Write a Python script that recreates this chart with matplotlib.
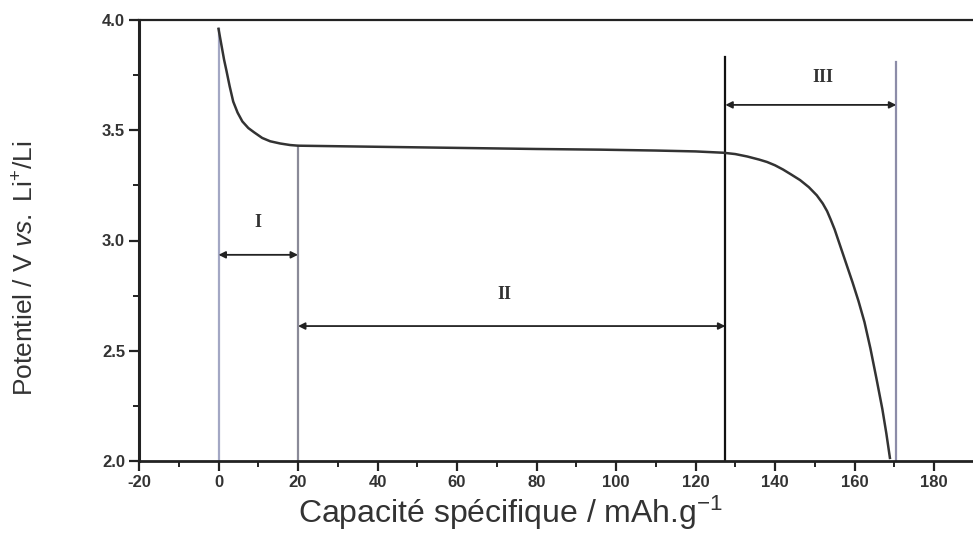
import matplotlib
matplotlib.use("Agg")
import matplotlib.pyplot as plt
from matplotlib.ticker import MultipleLocator

# Data
capacity = [0, 0.3, 0.8, 1.4, 2.0, 2.8, 3.7, 4.8, 6, 7.5, 9, 11, 13, 15.5, 18, 20,
            40, 60, 80, 96, 110, 120, 127, 130, 133, 136, 138, 140, 142, 144, 146.3,
            148.5, 150.5, 152, 153.1, 154, 155, 156.5, 158, 159.5, 161, 162.5, 164,
            165.5, 167, 168, 168.9]
potential = [3.96, 3.93, 3.88, 3.82, 3.77, 3.70, 3.63, 3.58, 3.54, 3.51, 3.49, 3.465,
             3.45, 3.44, 3.433, 3.43, 3.425, 3.42, 3.415, 3.412, 3.408, 3.404, 3.398,
             3.392, 3.381, 3.367, 3.356, 3.341, 3.322, 3.30, 3.274, 3.242, 3.205,
             3.168, 3.133, 3.095, 3.05, 2.97, 2.89, 2.81, 2.725, 2.63, 2.51, 2.375,
             2.235, 2.125, 2.014]

boundaries = [0, 20, 127.5, 170.5]
boundary_tops = [3.96, 3.43, 3.83, 3.81]
boundary_colors = ["#a3a7c4", "#8a8a98", "#111111", "#8c8ca8"]

region_labels = ["I", "II", "III"]
region_starts = [0, 20, 127.5]
region_ends = [20, 127.5, 170.5]
arrow_levels = [2.935, 2.612, 3.615]
label_x = [10, 72, 152]
label_y = [3.08, 2.755, 3.74]

xticks = [-20, 0, 20, 40, 60, 80, 100, 120, 140, 160, 180]
yticks = [2.0, 2.5, 3.0, 3.5, 4.0]

plt.rcParams["mathtext.fontset"] = "custom"
plt.rcParams["mathtext.rm"] = "Liberation Sans"
plt.rcParams["mathtext.it"] = "Liberation Sans:italic"
plt.rcParams["axes.unicode_minus"] = False

fig = plt.figure(figsize=(9.73, 5.38), dpi=100)
ax = fig.add_axes([139 / 973, 1 - 461 / 538, 1 - 139 / 973, (461 - 20) / 538])

ax.plot(capacity, potential, color="#333333", lw=1.8, zorder=3,
        solid_joinstyle="round")

for xb, top, c in zip(boundaries, boundary_tops, boundary_colors):
    ax.plot([xb, xb], [2.0, top], color=c, lw=1.6, zorder=2)

for lab, s, e, ya, lx, ly in zip(region_labels, region_starts, region_ends,
                                 arrow_levels, label_x, label_y):
    ax.annotate("", xy=(e, ya), xytext=(s, ya),
                arrowprops=dict(arrowstyle="<|-|>", color="#222222", lw=1.3,
                                mutation_scale=10, shrinkA=0, shrinkB=0))
    ax.text(lx, ly, lab, ha="center", va="center", fontsize=13, fontweight="bold",
            family="Liberation Serif", color="#333333")

ax.set_xlim(-20, 189.8)
ax.set_ylim(2.0, 4.0)
ax.set_xticks(xticks)
ax.set_yticks(yticks)
ax.set_yticklabels(["%.1f" % v for v in yticks])
ax.xaxis.set_minor_locator(MultipleLocator(10))
ax.yaxis.set_minor_locator(MultipleLocator(0.25))

ax.tick_params(which="major", direction="out", length=7, width=1.6, labelsize=12,
               colors="#222222", pad=3)
ax.tick_params(which="minor", direction="out", length=4, width=1.4, colors="#222222")
for lbl in ax.get_xticklabels() + ax.get_yticklabels():
    lbl.set_family("Liberation Sans")
    lbl.set_fontweight("bold")
    lbl.set_color("#333333")

ax.spines["right"].set_visible(False)
ax.spines["left"].set_linewidth(2.2)
ax.spines["bottom"].set_linewidth(2.0)
ax.spines["top"].set_linewidth(1.6)
for s in ["left", "bottom", "top"]:
    ax.spines[s].set_color("#222222")

ax.set_xlabel("Capacité spécifique / mAh.g$^{-1}$", fontsize=23,
              family="Liberation Sans", color="#333333")
ax.xaxis.set_label_coords(0.446, -0.075)
ax.set_ylabel("Potentiel / V $\\it{vs.}$ Li$^{+}$/Li", fontsize=19,
              family="Liberation Sans", color="#333333")
ax.yaxis.set_label_coords(-0.12, 0.438)

fig.savefig("out.png", dpi=100)
